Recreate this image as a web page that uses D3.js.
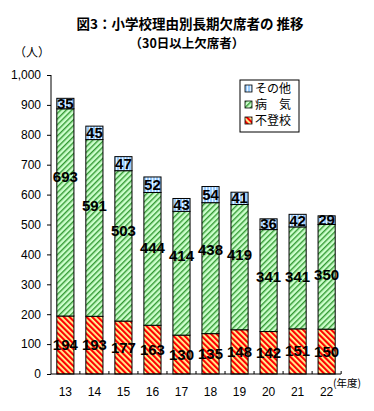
<!DOCTYPE html>
<html>
<head>
<meta charset="utf-8">
<script src="https://cdn.jsdelivr.net/npm/d3@7"></script>
<style>
  body { margin: 0; background: #fff; }
  text { font-family: "Liberation Sans", Arial, "Noto Sans CJK JP", sans-serif; }
  .jp { font-family: "Noto Sans CJK JP", sans-serif; }
</style>
</head>
<body>
<div id="chart"></div>
<script>
// data
var years = ["13", "14", "15", "16", "17", "18", "19", "20", "21", "22"];
var futoko = [194, 193, 177, 163, 130, 135, 148, 142, 151, 150];
var byoki = [693, 591, 503, 444, 414, 438, 419, 341, 341, 350];
var sonota = [35, 45, 47, 52, 43, 54, 41, 36, 42, 29];
var yTicks = [0, 100, 200, 300, 400, 500, 600, 700, 800, 900, 1000];
var seriesNames = ["不登校", "病　気", "その他"];

var width = 374, height = 411;

var svg = d3.select("#chart").append("svg")
    .attr("width", width)
    .attr("height", height);

// fill patterns
var defs = svg.append("defs");
var pRed = defs.append("pattern").attr("id", "pRed")
    .attr("patternUnits", "userSpaceOnUse").attr("width", 4).attr("height", 4)
    .attr("patternTransform", "rotate(-45)");
pRed.append("rect").attr("width", 4).attr("height", 4).attr("fill", "#ffff99");
pRed.append("rect").attr("width", 2.2).attr("height", 4).attr("fill", "#ff0000");

var pGreen = defs.append("pattern").attr("id", "pGreen")
    .attr("patternUnits", "userSpaceOnUse").attr("width", 4).attr("height", 4)
    .attr("patternTransform", "rotate(45)");
pGreen.append("rect").attr("width", 4).attr("height", 4).attr("fill", "#ccffcc");
pGreen.append("rect").attr("width", 1.4).attr("height", 4).attr("fill", "#339933");

var pBlue = defs.append("pattern").attr("id", "pBlue")
    .attr("patternUnits", "userSpaceOnUse").attr("width", 3).attr("height", 3);
pBlue.append("rect").attr("width", 3).attr("height", 3).attr("fill", "#99ccff");
pBlue.append("rect").attr("x", 2).attr("width", 1).attr("height", 3).attr("fill", "#e8f4ff");

var fills = ["url(#pRed)", "url(#pGreen)", "url(#pBlue)"];

var x = d3.scaleBand()
    .domain(years)
    .range([51, 341])
    .paddingInner(0.41)
    .paddingOuter(0.2);

var y = d3.scaleLinear()
    .domain([0, 1000])
    .range([374, 75]);

// stack
var table = years.map(function (yr, i) {
    return { year: yr, futoko: futoko[i], byoki: byoki[i], sonota: sonota[i] };
});
var keys = ["futoko", "byoki", "sonota"];
var stacked = d3.stack().keys(keys)(table);

var layers = svg.selectAll(".layer")
    .data(stacked)
    .enter().append("g")
    .attr("class", "layer")
    .attr("fill", function (d, i) { return fills[i]; });

layers.selectAll("rect")
    .data(function (d) { return d; })
    .enter().append("rect")
    .attr("x", function (d) { return x(d.data.year); })
    .attr("width", x.bandwidth())
    .attr("y", function (d) { return y(d[1]); })
    .attr("height", function (d) { return y(d[0]) - y(d[1]); })
    .attr("stroke", "#000")
    .attr("stroke-width", 1);

// y axis
var yAxis = svg.append("g")
    .attr("transform", "translate(51,0)")
    .call(d3.axisLeft(y).tickValues(yTicks).tickSize(4).tickFormat(d3.format(",")));
yAxis.select(".domain").attr("stroke", "#000").attr("d", "M0,75V374");
yAxis.selectAll("text").attr("font-size", 12).attr("fill", "#000").attr("x", -10);
yAxis.selectAll("line").attr("stroke", "#000");

// x axis
var xAxis = svg.append("g").attr("transform", "translate(0,374)");
xAxis.append("line").attr("x1", 51).attr("x2", 341).attr("stroke", "#000");
var step = x.step();
xAxis.selectAll(".tk")
    .data(years)
    .enter().append("line")
    .attr("class", "tk")
    .attr("x1", function (d) { return x(d) + x.bandwidth() / 2 + step / 2; })
    .attr("x2", function (d) { return x(d) + x.bandwidth() / 2 + step / 2; })
    .attr("y1", 0).attr("y2", -3)
    .attr("stroke", "#000");
xAxis.selectAll(".xl")
    .data(years)
    .enter().append("text")
    .attr("class", "xl")
    .attr("x", function (d) { return x(d) + x.bandwidth() / 2; })
    .attr("y", 22)
    .attr("text-anchor", "middle")
    .attr("font-size", 12)
    .text(function (d) { return d; });

// data labels
var lbl = svg.append("g")
    .attr("font-size", 15)
    .attr("font-weight", "bold")
    .attr("text-anchor", "middle")
    .attr("fill", "#000");
table.forEach(function (d) {
    var cx = x(d.year) + x.bandwidth() / 2;
    lbl.append("text").attr("x", cx).attr("y", y(d.futoko / 2) + 5).text(d.futoko);
    lbl.append("text").attr("x", cx).attr("y", y(d.byoki * 0.95) + 5).text(d.byoki);
    var top = d.futoko + d.byoki + d.sonota;
    lbl.append("text").attr("x", cx).attr("y", y(top - d.sonota / 2) + 5).text(d.sonota);
});

// titles
svg.append("text").attr("class", "jp")
    .attr("x", 190).attr("y", 28.5)
    .attr("text-anchor", "middle")
    .attr("font-size", 13.5).attr("font-weight", "bold")
    .text("図3：小学校理由別長期欠席者の 推移");
svg.append("text").attr("class", "jp")
    .attr("x", 187).attr("y", 48)
    .attr("text-anchor", "middle")
    .attr("font-size", 12.5).attr("font-weight", "bold")
    .text("（30日以上欠席者）");
svg.append("text").attr("class", "jp")
    .attr("x", 14).attr("y", 57)
    .attr("font-size", 12)
    .text("（人）");
svg.append("text").attr("class", "jp")
    .attr("x", 333).attr("y", 387)
    .attr("font-size", 10.5)
    .text("(年度)");

// legend
var legend = svg.append("g").attr("transform", "translate(240,80)");
legend.append("rect")
    .attr("width", 59).attr("height", 52)
    .attr("fill", "#fff").attr("stroke", "#000");
var legendOrder = [2, 1, 0];
legendOrder.forEach(function (si, i) {
    var g = legend.append("g").attr("transform", "translate(5," + (5 + i * 16) + ")");
    g.append("rect").attr("width", 7).attr("height", 7)
        .attr("fill", fills[si]).attr("stroke", "#000").attr("stroke-width", 0.8);
    g.append("text").attr("class", "jp")
        .attr("x", 10).attr("y", 8)
        .attr("font-size", 12)
        .text(seriesNames[si]);
});
</script>
</body>
</html>
